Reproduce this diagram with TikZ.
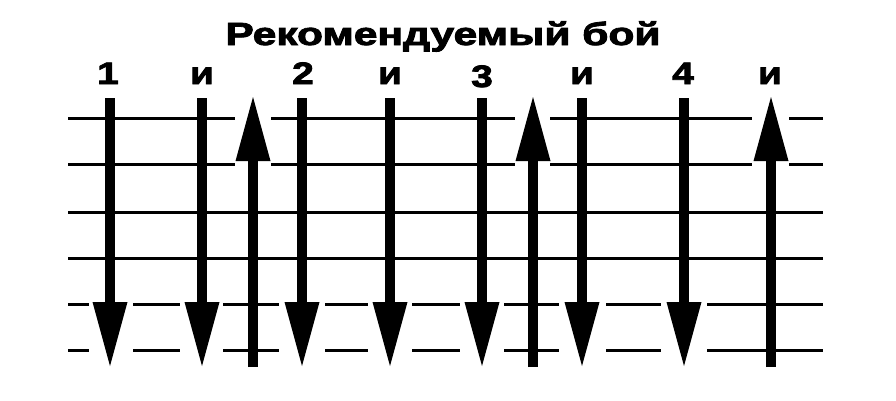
\documentclass[tikz,border=0pt]{standalone}
\usepackage{graphicx}
\usepackage{fontspec}
\setmainfont{Liberation Sans}
\newfontfamily\heavy{Liberation Sans}[BoldFeatures={FakeBold=2.5}]
\usetikzlibrary{arrows.meta}
\newcommand\widelbl[1]{\scalebox{1.25}[1]{#1}}
\begin{document}
\begin{tikzpicture}[x=1pt,y=-1pt,
  staffline/.style={line width=3pt, black},
  strum/.style={line width=9.5pt, black, -{Triangle[length=64pt,width=35pt,line width=0pt]}},
  lbl/.style={anchor=base, inner sep=0pt, font=\heavy\bfseries\fontsize{31}{31}\selectfont},
  ttl/.style={anchor=base, inner sep=0pt, font=\heavy\bfseries\fontsize{32}{32}\selectfont}
]
\useasboundingbox (0,0) rectangle (896,400);
\fill[white] (0,0) rectangle (896,400);

% title
\node[ttl] (title) at (443,45) {\resizebox{435pt}{\height}{Рекомендуемый бой}};

% staff lines 1,2 (gaps around up-arrow heads)
\foreach \y in {118,164}{
  \draw[staffline] (68,\y) -- (235,\y);
  \draw[staffline] (271,\y) -- (515,\y);
  \draw[staffline] (550,\y) -- (752,\y);
  \draw[staffline] (789,\y) -- (823,\y);
}
% staff lines 3,4
\foreach \y in {212,258}{
  \draw[staffline] (68,\y) -- (823,\y);
}
% staff lines 5,6 (gaps around down-arrow heads)
\foreach \y in {304,350}{
  \draw[staffline] (68,\y) -- (89,\y);
  \draw[staffline] (133,\y) -- (180,\y);
  \draw[staffline] (223,\y) -- (279,\y);
  \draw[staffline] (325,\y) -- (368,\y);
  \draw[staffline] (412,\y) -- (460,\y);
  \draw[staffline] (504,\y) -- (559,\y);
  \draw[staffline] (606,\y) -- (661,\y);
  \draw[staffline] (707,\y) -- (823,\y);
}

% labels
\node[lbl] (n1) at (108,84) {\widelbl{1}};
\node[lbl] (i1) at (202,84) {\widelbl{и}};
\node[lbl] (n2) at (303,84) {\widelbl{2}};
\node[lbl] (i2) at (390,84) {\widelbl{и}};
\node[lbl] (n3) at (482,87) {\widelbl{3}};
\node[lbl] (i3) at (582,84) {\widelbl{и}};
\node[lbl] (n4) at (683,84) {\widelbl{4}};
\node[lbl] (i4) at (770,84) {\widelbl{и}};

% down strums
\foreach \n/\x in {a/110,b/202,c/302,d/390,e/482,f/582,g/684}{
  \coordinate (d\n top) at (\x,98);
  \coordinate (d\n tip) at (\x,366);
  \draw[strum] (d\n top) -- (d\n tip);
}
% up strums
\foreach \n/\x in {a/253,b/533,c/771}{
  \coordinate (u\n bot) at (\x,367);
  \coordinate (u\n tip) at (\x,97);
  \draw[strum] (u\n bot) -- (u\n tip);
}
\end{tikzpicture}
\end{document}
